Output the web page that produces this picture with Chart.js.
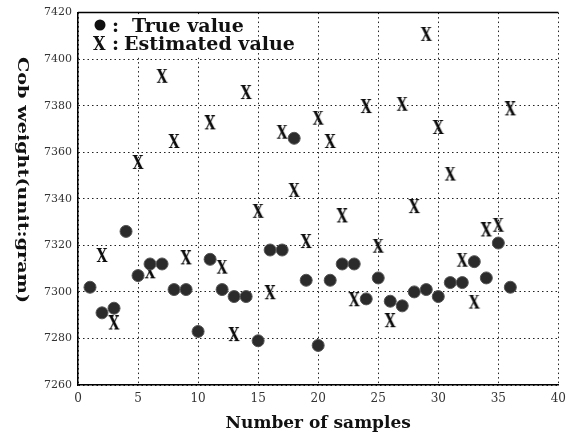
<!DOCTYPE html>
<html>
<head>
<meta charset="utf-8">
<script src="https://cdn.jsdelivr.net/npm/chart.js@4.4.1/dist/chart.umd.min.js"></script>
<style>
  html, body { margin: 0; padding: 0; background: #fff; }
  #caixa { width: 573px; height: 439px; }
</style>
</head>
<body>
<div id="caixa"><canvas id="grafico"></canvas></div>
<script>
// amostras (eixo x)
var amostras = [1, 2, 3, 4, 5, 6, 7, 8, 9, 10, 11, 12, 13, 14, 15, 16, 17, 18,
                19, 20, 21, 22, 23, 24, 25, 26, 27, 28, 29, 30, 31, 32, 33, 34, 35, 36];

// peso real (bolinhas)
var valorReal = [7302, 7291, 7293, 7326, 7307, 7312, 7312, 7301, 7301, 7283, 7314, 7301,
                 7298, 7298, 7279, 7318, 7318, 7366, 7305, 7277, 7305, 7312, 7312, 7297,
                 7306, 7296, 7294, 7300, 7301, 7298, 7304, 7304, 7313, 7306, 7321, 7302];

// peso estimado (X) - null onde nao aparece
var valorEstimado = [null, 7315, 7286, null, 7355, 7308, 7392, 7364, 7314, null, 7372, 7310,
                     7281, 7385, 7334, 7299, 7368, 7343, 7321, 7374, 7364, 7332, 7296, 7379,
                     7319, 7287, 7380, 7336, 7410, 7370, 7350, 7313, 7295, 7326, 7328, 7378];

// ticks dos eixos
var ticksX = [0, 5, 10, 15, 20, 25, 30, 35, 40];
var ticksY = [7260, 7280, 7300, 7320, 7340, 7360, 7380, 7400, 7420];

var tituloX = 'Number of samples';
var tituloY = 'Cob weight(unit:gram)';
var legenda = ['True value', 'Estimated value'];

function pontos(valores) {
  var lista = [];
  for (var i = 0; i < amostras.length; i++) {
    if (valores[i] !== null) lista.push({ x: amostras[i], y: valores[i] });
  }
  return lista;
}

// marca "X" desenhada como letra
function marcaX() {
  var c = document.createElement('canvas');
  c.width = 14; c.height = 18;
  var g = c.getContext('2d');
  g.fillStyle = '#0a0a0a';
  g.font = 'bold 18px "DejaVu Serif"';
  g.textAlign = 'center';
  g.textBaseline = 'middle';
  g.save();
  g.translate(7, 9);
  g.scale(0.78, 1);
  g.fillText('X', 0, 0);
  g.restore();
  return c;
}
var imgX = marcaX();

// moldura, legenda e titulo do eixo y
var extras = {
  id: 'extras',
  afterDraw: function (chart) {
    var ctx = chart.ctx;
    var a = chart.chartArea;
    ctx.save();
    // linha de cima
    ctx.strokeStyle = '#000';
    ctx.lineWidth = 1.5;
    ctx.beginPath();
    ctx.moveTo(a.left, a.top);
    ctx.lineTo(a.right, a.top);
    ctx.stroke();

    // fundo da legenda
    ctx.fillStyle = '#fff';
    ctx.fillRect(a.left + 2, a.top + 2, 172, 43);

    ctx.fillStyle = '#111';
    ctx.font = 'bold 19px "DejaVu Serif"';
    ctx.textBaseline = 'alphabetic';
    ctx.beginPath();
    ctx.arc(100, 25, 5.5, 0, Math.PI * 2);
    ctx.fill();
    ctx.fillText(':', 112, 32);
    ctx.fillText(legenda[0], 132, 32);
    ctx.save();
    ctx.translate(93, 50);
    ctx.scale(0.85, 1);
    ctx.fillText('X', 0, 0);
    ctx.restore();
    ctx.fillText(':', 112, 50);
    ctx.fillText(legenda[1], 124, 50);

    // titulo do eixo y (lido de cima pra baixo)
    ctx.translate(22, 180);
    ctx.rotate(Math.PI / 2);
    ctx.font = 'bold 15px "DejaVu Serif"';
    var w = ctx.measureText(tituloY).width;
    ctx.scale(246 / w, 1);
    ctx.textAlign = 'center';
    ctx.textBaseline = 'middle';
    ctx.fillText(tituloY, 0, 0);
    ctx.restore();
  }
};

var ctx = grafico.getContext('2d');

var peso = new Chart(ctx, {
  type: 'scatter',
  data: {
    datasets: [{
      label: legenda[0],
      data: pontos(valorReal),
      pointStyle: 'circle',
      pointRadius: 6,
      backgroundColor: '#2b2b2b',
      borderColor: '#555',
      borderWidth: 1
    }, {
      label: legenda[1],
      data: pontos(valorEstimado),
      pointStyle: imgX,
      pointRadius: 7
    }]
  },
  options: {
    responsive: true,
    maintainAspectRatio: false,
    devicePixelRatio: 1,
    animation: false,
    layout: { padding: { top: 12, right: 6, left: 0, bottom: 0 } },
    plugins: {
      legend: { display: false },
      tooltip: { enabled: false }
    },
    scales: {
      x: {
        type: 'linear',
        min: 0,
        max: 40,
        afterBuildTicks: function (s) { s.ticks = ticksX.map(function (v) { return { value: v }; }); },
        afterFit: function (s) { s.height = 54; },
        ticks: {
          color: '#333', padding: 7, font: { family: 'DejaVu Serif', size: 12 },
          callback: function (v) { return String(v); }
        },
        grid: { color: '#222', drawTicks: false },
        border: { display: true, color: '#000', width: 1.5, dash: [1.5, 3] },
        title: {
          display: true,
          text: tituloX,
          color: '#111',
          padding: { top: 0, bottom: 5 },
          font: { family: 'DejaVu Serif', size: 17, weight: 'bold' }
        }
      },
      y: {
        min: 7260,
        max: 7420,
        afterBuildTicks: function (s) { s.ticks = ticksY.map(function (v) { return { value: v }; }); },
        afterFit: function (s) { s.width = 78; },
        ticks: {
          color: '#333', padding: 6, font: { family: 'DejaVu Serif', size: 11 },
          callback: function (v) { return String(v); }
        },
        grid: { color: '#222', drawTicks: false },
        border: { display: true, color: '#000', width: 1.5, dash: [1.5, 3] }
      }
    }
  },
  plugins: [extras]
});
</script>
</body>
</html>
